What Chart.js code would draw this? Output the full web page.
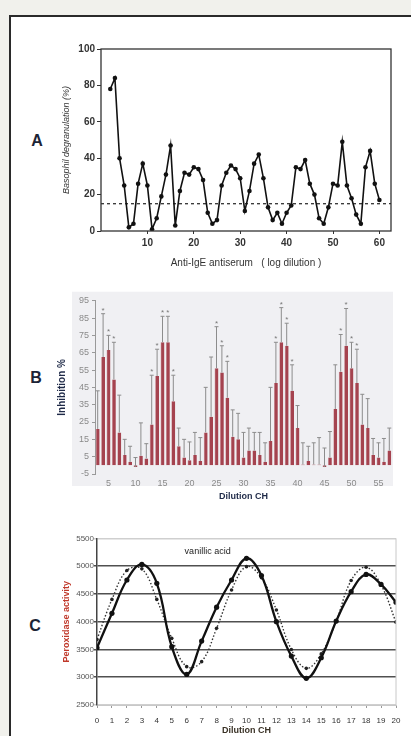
<!DOCTYPE html>
<html>
<head>
<meta charset="utf-8">
<script src="https://cdn.jsdelivr.net/npm/chart.js@4.4.1/dist/chart.umd.min.js"></script>
<style>
  html, body { margin: 0; padding: 0; }
  body { width: 411px; height: 736px; background: #f1f1ec; position: relative; overflow: hidden; font-family: "Liberation Sans", Arial, sans-serif; }
  #frame { position: absolute; left: 9px; top: 15px; width: 420px; height: 800px; background: #fff; border-top: 2px solid #2a2a2a; border-left: 2px solid #2a2a2a; }
  .box { position: absolute; }
  .tag { position: absolute; font: bold 16px "Liberation Sans", Arial, sans-serif; color: #1c2436; transform: translate(-50%, -50%); }
</style>
</head>
<body>
<div id="frame"></div>
<div class="tag" style="left:37px;top:141px">A</div>
<div class="tag" style="left:36px;top:378px">B</div>
<div class="tag" style="left:35px;top:626px">C</div>
<div class="box" style="left:40px;top:35px;width:365px;height:240px"><canvas id="chartA"></canvas></div>
<div class="box" style="left:40px;top:285px;width:360px;height:220px"><canvas id="chartB"></canvas></div>
<div class="box" style="left:40px;top:525px;width:371px;height:211px"><canvas id="chartC"></canvas></div>
<script>
// ---- panel A : basophil degranulation ----
const aFirstDilution = 2;
const aValues = [78, 84, 40, 25, 2, 4, 26, 37, 25, 1,
                 7, 19, 31, 47, 3, 22, 32, 31, 35, 34,
                 28, 10, 4, 6, 25, 32, 36, 34, 29, 11,
                 22, 37, 42, 29, 13, 6, 10, 4, 10, 14,
                 35, 34, 39, 26, 20, 7, 4, 13, 26, 25,
                 49, 25, 18, 9, 4, 35, 44, 26, 17];
const aThreshold = 15;
const aTicksX = [10, 20, 30, 40, 50, 60];
const aTicksY = [0, 20, 40, 60, 80, 100];

// ---- panel B : inhibition % ----
const bDilutions = ['3','4','5','6','7','8','9','10','11','12','13','14','15','16','17','18','19','20',
                    '21','22','23','24','25','26','27','28','29','30','31','32','33','34','35','36','37','38',
                    '39','40','41','42','43','44','45','46','47','48','49','50','51','52','53','54','55','56','57'];
const bValues = [21, 62.5, 66.5, 49.5, 19, 6, 2, -1, 5.5, 4,
                 23.5, 51.5, 71, 71, 37, 11, 4.5, 3, 6, 2.5,
                 19, 28, 56, 53.5, 39, 16.5, 15, 4.5, 8.5, 8.5,
                 6, 2, 14, 47.5, 71, 69, 43, 21.5, 0.5, 2.5,
                 0.5, 0.5, -1, 4.5, 32.5, 54, 69, 56, 47.5, 23.5,
                 21.5, 6, 4.5, 2, 8.5];
const bErrTop = [43, 87.5, 75, 71, 40.5, 15, 11, 4.5, 24.5, 12.5,
                 52, 67, 86, 86, 52, 21.5, 15, 13.5, 19, 16,
                 45, 62.5, 80, 69, 60, 32, 30, 19, 21.5, 19,
                 19, 13, 45, 71, 91, 82, 58, 34.5, 13, 11,
                 13, 16, 10, 19.5, 58, 75.5, 90.5, 71, 67, 41,
                 38.5, 15.5, 13, 15.5, 21.5];
const bStarred = ['4','5','6','13','14','15','16','17','25','26','27','36','37','38','39','48','49','50','51'];

// ---- panel C : peroxidase activity ----
const cDilutions = [0,1,2,3,4,5,6,7,8,9,10,11,12,13,14,15,16,17,18,19,20];
const cSolid  = [3530, 4150, 4750, 5030, 4690, 3550, 3050, 3650, 4260, 4750, 5140,
                 4830, 4000, 3380, 2980, 3350, 4010, 4540, 4850, 4670, 4350];
const cDotted = [3680, 4400, 4920, 4950, 4400, 3700, 3190, 3280, 3880, 4570, 4990,
                 4790, 4210, 3500, 3160, 3420, 4010, 4740, 4980, 4660, 3990];
const cNote = 'vanillic acid';

const sans = '"Liberation Sans", Arial, sans-serif';

// frame around the plot of panel A
const frameBox = {
  id: 'frameBox',
  afterDraw(chart) {
    const a = chart.chartArea, ctx = chart.ctx;
    ctx.save();
    ctx.strokeStyle = '#333';
    ctx.lineWidth = 1.3;
    ctx.strokeRect(a.left, a.top, a.right - a.left, a.bottom - a.top);
    ctx.restore();
  }
};

new Chart(document.getElementById('chartA'), {
  type: 'line',
  data: {
    datasets: [{
      data: aValues.map((v, i) => ({ x: aFirstDilution + i, y: v })),
      borderColor: '#111',
      backgroundColor: '#111',
      borderWidth: 1.6,
      pointRadius: 2.3,
      pointBorderWidth: 0,
      tension: 0
    }, {
      data: [{ x: 0, y: aThreshold }, { x: 62.5, y: aThreshold }],
      borderColor: '#333',
      borderWidth: 1.3,
      borderDash: [3, 3],
      pointRadius: 0
    }]
  },
  options: {
    responsive: true,
    maintainAspectRatio: false,
    animation: false,
    layout: { padding: { left: 17, top: 14, right: 14, bottom: 0 } },
    plugins: { legend: { display: false }, tooltip: { enabled: false } },
    scales: {
      x: {
        type: 'linear', min: 0, max: 62.5,
        afterBuildTicks: s => { s.ticks = aTicksX.map(v => ({ value: v })); },
        afterFit: s => { s.height = 44; },
        grid: { drawOnChartArea: false, tickLength: 3, color: '#333' },
        border: { display: false },
        ticks: { color: '#333', padding: 3, maxRotation: 0, font: { family: sans, size: 10, weight: 'bold' } },
        title: { display: true, text: 'Anti-IgE antiserum   ( log dilution )', color: '#333',
                 padding: { top: 0, bottom: 6 }, font: { family: sans, size: 10 } }
      },
      y: {
        type: 'linear', min: 0, max: 100,
        afterBuildTicks: s => { s.ticks = aTicksY.map(v => ({ value: v })); },
        afterFit: s => { s.width = 44; },
        grid: { drawOnChartArea: false, tickLength: 4, color: '#333' },
        border: { display: false },
        ticks: { color: '#333', padding: 2, font: { family: sans, size: 10, weight: 'bold' } },
        title: { display: true, text: 'Basophil degranulation (%)', color: '#333',
                 padding: { top: 4, bottom: 0 }, font: { family: sans, size: 9, style: 'italic' } }
      }
    }
  },
  plugins: [frameBox]
});

// grey panel behind B, whiskers and asterisks
const panelBack = {
  id: 'panelBack',
  beforeDraw(chart) {
    const a = chart.chartArea, ctx = chart.ctx;
    ctx.save();
    ctx.fillStyle = '#f0f0f3';
    ctx.fillRect(a.left - 23, a.top - 9, a.right - a.left + 24, a.bottom - a.top + 21);
    ctx.restore();
  }
};
const whiskers = {
  id: 'whiskers',
  afterDatasetsDraw(chart) {
    const ctx = chart.ctx, y = chart.scales.y;
    const meta = chart.getDatasetMeta(0);
    ctx.save();
    ctx.strokeStyle = '#8c8c8c';
    ctx.lineWidth = 1;
    ctx.fillStyle = '#777';
    ctx.font = '8px ' + sans;
    ctx.textAlign = 'center';
    meta.data.forEach((bar, i) => {
      const top = y.getPixelForValue(bErrTop[i]);
      ctx.beginPath();
      ctx.moveTo(bar.x, bar.y);
      ctx.lineTo(bar.x, top);
      ctx.moveTo(bar.x - 2, top);
      ctx.lineTo(bar.x + 2, top);
      ctx.stroke();
      if (bStarred.includes(bDilutions[i])) ctx.fillText('*', bar.x, top - 1);
    });
    ctx.restore();
  }
};

new Chart(document.getElementById('chartB'), {
  type: 'bar',
  data: {
    labels: bDilutions,
    datasets: [{
      data: bValues,
      backgroundColor: '#a5434f',
      borderColor: '#c98790',
      borderWidth: { left: 0.6, right: 0, top: 0, bottom: 0 },
      barPercentage: 0.72,
      categoryPercentage: 1
    }]
  },
  options: {
    responsive: true,
    maintainAspectRatio: false,
    animation: false,
    layout: { padding: { left: 12, top: 15.7, right: 8, bottom: 0 } },
    plugins: { legend: { display: false }, tooltip: { enabled: false } },
    scales: {
      x: {
        afterFit: s => { s.height = 31; },
        grid: { display: false, drawTicks: false },
        border: { display: false },
        ticks: {
          autoSkip: false, maxRotation: 0, padding: 4, color: '#8a8a8a',
          font: { family: sans, size: 9 },
          callback: function (v) { const l = this.getLabelForValue(v); return Number(l) % 5 === 0 ? l : ''; }
        },
        title: { display: true, text: 'Dilution CH', color: '#1f2a48',
                 padding: { top: 0, bottom: 3 }, font: { family: sans, size: 9, weight: 'bold' } }
      },
      y: {
        min: -5, max: 95,
        ticks: { stepSize: 10, color: '#8a8a8a', padding: 3, font: { family: sans, size: 9 } },
        afterFit: s => { s.width = 43; },
        grid: { drawOnChartArea: false, tickLength: 3, color: '#999' },
        border: { display: true, color: '#999' },
        title: { display: true, text: 'Inhibition %', color: '#1f2a48',
                 padding: { top: 4, bottom: 0 }, font: { family: sans, size: 10, weight: 'bold' } }
      }
    }
  },
  plugins: [panelBack, whiskers]
});

// right border and note for C
const noteC = {
  id: 'noteC',
  afterDraw(chart) {
    const a = chart.chartArea, ctx = chart.ctx;
    ctx.save();
    ctx.strokeStyle = '#c8c8c8';
    ctx.lineWidth = 1;
    ctx.beginPath();
    ctx.moveTo(a.right, a.top);
    ctx.lineTo(a.right, a.bottom);
    ctx.stroke();
    ctx.fillStyle = '#222';
    ctx.font = '9px ' + sans;
    ctx.textAlign = 'center';
    ctx.textBaseline = 'middle';
    ctx.fillText(cNote, chart.scales.x.getPixelForValue(7.4), chart.scales.y.getPixelForValue(5270));
    ctx.restore();
  }
};

new Chart(document.getElementById('chartC'), {
  type: 'line',
  data: {
    labels: cDilutions,
    datasets: [{
      data: cSolid,
      borderColor: '#111',
      backgroundColor: '#111',
      borderWidth: 2.3,
      pointRadius: 2.6,
      pointBorderWidth: 0,
      tension: 0.4
    }, {
      data: cDotted,
      borderColor: '#333',
      backgroundColor: '#222',
      borderWidth: 1.4,
      borderDash: [1.5, 2],
      pointRadius: 1.8,
      pointBorderWidth: 0,
      tension: 0.4
    }]
  },
  options: {
    responsive: true,
    maintainAspectRatio: false,
    animation: false,
    layout: { padding: { left: 17, top: 13.3, right: 15, bottom: 0 } },
    plugins: { legend: { display: false }, tooltip: { enabled: false } },
    scales: {
      x: {
        type: 'linear', min: 0, max: 20,
        afterBuildTicks: s => { s.ticks = cDilutions.map(v => ({ value: v })); },
        afterFit: s => { s.height = 31; },
        grid: { drawOnChartArea: false, tickLength: 3, color: '#999' },
        border: { display: true, color: '#c8c8c8' },
        ticks: { color: '#333', padding: 8, maxRotation: 0, autoSkip: false, font: { family: sans, size: 8 } },
        title: { display: true, text: 'Dilution CH', color: '#3a3226',
                 padding: { top: 0, bottom: 0 }, font: { family: sans, size: 9, weight: 'bold' } }
      },
      y: {
        min: 2500, max: 5500,
        ticks: { stepSize: 500, color: '#555', padding: 0, font: { family: sans, size: 8 },
                 callback: v => String(v) },
        afterFit: s => { s.width = 40; },
        grid: {
          color: c => (c.tick && (c.tick.value === 2500 || c.tick.value === 5500)) ? '#cfcfcf' : '#505050',
          lineWidth: 1.5, tickLength: 3
        },
        border: { display: true, color: '#444', width: 1.5 },
        title: { display: true, text: 'Peroxidase activity', color: '#c0392b',
                 padding: { top: 4, bottom: 0 }, font: { family: sans, size: 9, weight: 'bold' } }
      }
    }
  },
  plugins: [noteC]
});
</script>
</body>
</html>
